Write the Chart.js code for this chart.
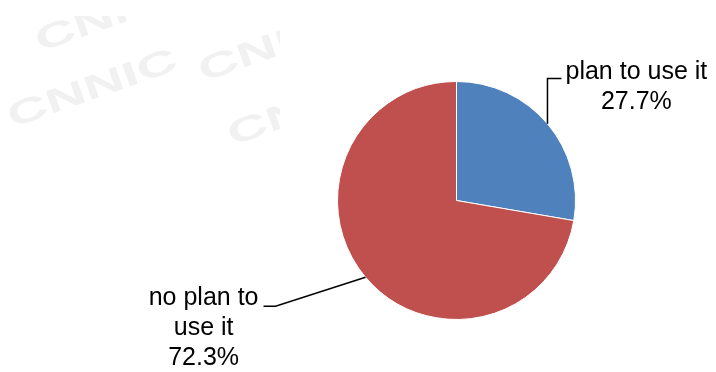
<!DOCTYPE html>
<html>
<head>
<meta charset="utf-8">
<script src="https://cdn.jsdelivr.net/npm/chart.js@4"></script>
<style>
  html, body { margin: 0; padding: 0; background: #fff; }
  #wrap { width: 716px; height: 372px; position: relative; }
</style>
</head>
<body>
<div id="wrap"><canvas id="pieChart"></canvas></div>
<script>
// data
const categories = ['plan to use it', 'no plan to use it'];
const shares = [27.7, 72.3];
const sliceColors = ['#4F81BD', '#C0504D'];

const labelFont = '25px "Liberation Sans", Arial, sans-serif';
const lineGap = 30;

// faint watermark in the top left corner
const watermark = {
  id: 'watermark',
  beforeDraw(chart) {
    const ctx = chart.ctx;
    ctx.save();
    ctx.beginPath();
    ctx.rect(10, 16, 270, 130);
    ctx.clip();
    ctx.fillStyle = '#f1f1f1';
    ctx.font = 'bold 34px "Liberation Sans", Arial, sans-serif';
    const marks = [[40, 52], [12, 128], [203, 82], [232, 146]];
    marks.forEach(([x, y]) => {
      ctx.save();
      ctx.translate(x, y);
      ctx.rotate(-0.34);
      ctx.scale(1.65, 1);
      ctx.fillText('CNNIC', 0, 0);
      ctx.restore();
    });
    ctx.restore();
  }
};

// wrap a label into lines no wider than maxW
const wrapText = (ctx, text, maxW) => {
  const words = text.split(' ');
  const lines = [];
  let cur = '';
  words.forEach(w => {
    const test = cur ? cur + ' ' + w : w;
    if (cur && ctx.measureText(test).width > maxW) {
      lines.push(cur);
      cur = w;
    } else {
      cur = test;
    }
  });
  if (cur) lines.push(cur);
  return lines;
};

// data labels with leader lines, like the Excel original
const leaderLabels = {
  id: 'leaderLabels',
  afterDraw(chart) {
    const ctx = chart.ctx;
    const arcs = chart.getDatasetMeta(0).data;
    ctx.save();
    ctx.font = labelFont;
    ctx.fillStyle = '#000';
    ctx.strokeStyle = '#000';
    ctx.lineWidth = 1.5;
    ctx.textBaseline = 'middle';
    ctx.textAlign = 'center';

    arcs.forEach((arc, i) => {
      const mid = (arc.startAngle + arc.endAngle) / 2;
      const ex = arc.x + Math.cos(mid) * arc.outerRadius;
      const ey = arc.y + Math.sin(mid) * arc.outerRadius;
      const right = Math.cos(mid) >= 0;
      const lines = wrapText(ctx, categories[i], right ? 200 : 130);
      lines.push(shares[i].toFixed(1) + '%');
      const blockW = Math.max(...lines.map(l => ctx.measureText(l).width));

      let kneeX, kneeY, endX, textX, firstY;
      if (right) {
        kneeX = ex;
        kneeY = arc.y - arc.outerRadius - 3;
        endX = kneeX + 14;
        textX = endX + 4 + blockW / 2;
        firstY = kneeY - 6;
      } else {
        kneeX = ex - 90;
        kneeY = ey + 29;
        endX = kneeX - 12;
        textX = endX - 5 - blockW / 2;
        firstY = kneeY - 8;
      }
      ctx.beginPath();
      ctx.moveTo(ex, ey);
      ctx.lineTo(kneeX, kneeY);
      ctx.lineTo(endX, kneeY);
      ctx.stroke();
      lines.forEach((l, k) => ctx.fillText(l, textX, firstY + k * lineGap));
    });
    ctx.restore();
  }
};

const ctx = document.getElementById('pieChart').getContext('2d');
new Chart(ctx, {
  type: 'pie',
  data: {
    labels: categories,
    datasets: [{
      data: shares,
      backgroundColor: sliceColors,
      borderColor: '#ffffff',
      borderWidth: 1
    }]
  },
  options: {
    responsive: true,
    maintainAspectRatio: false,
    animation: false,
    layout: { padding: { left: 337, right: 140, top: 81, bottom: 52 } },
    plugins: {
      legend: { display: false },
      tooltip: { enabled: false }
    }
  },
  plugins: [watermark, leaderLabels]
});
</script>
</body>
</html>
